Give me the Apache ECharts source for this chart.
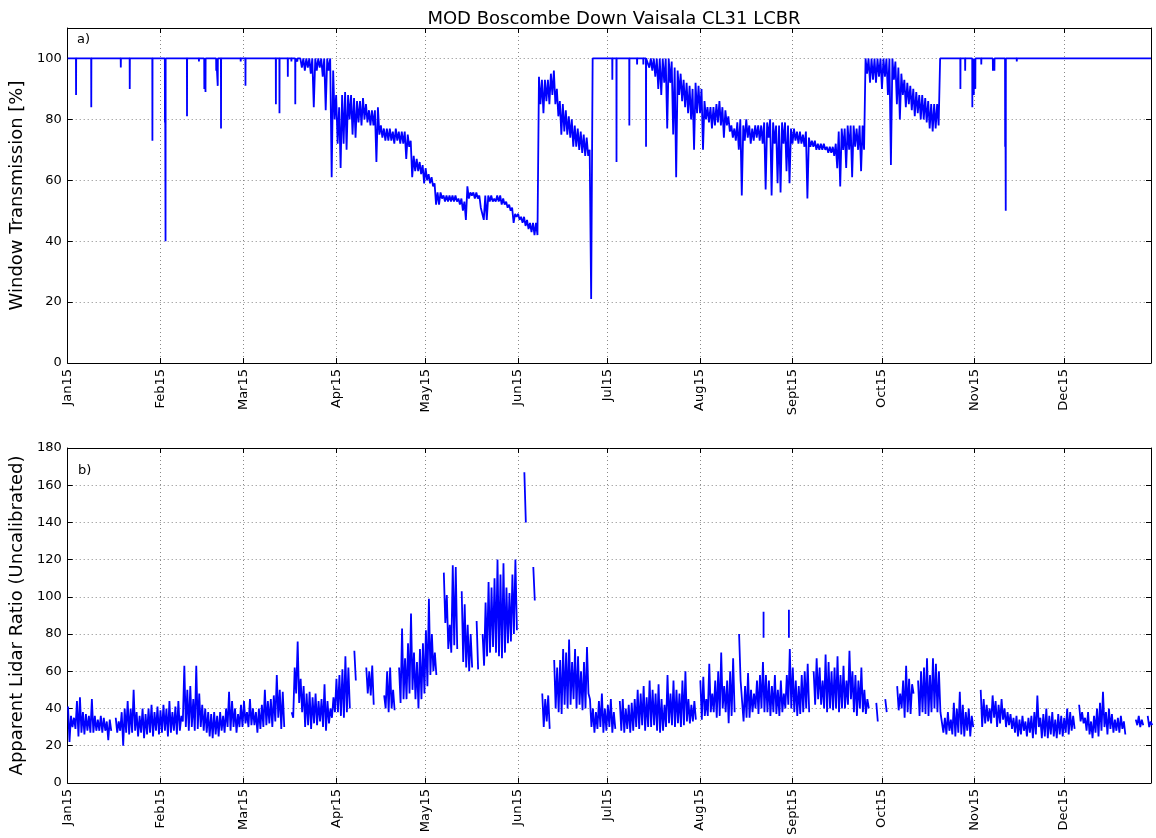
<!DOCTYPE html>
<html><head><meta charset="utf-8">
<script src="https://cdn.jsdelivr.net/npm/echarts@6/dist/echarts.min.js"></script>
<style>html,body{margin:0;padding:0;background:#fff}#c{width:1156px;height:838px}</style>
</head><body><div id="c"></div>
<script>
// ---------- tick labels ----------
const monthLabels = ['Jan15','Feb15','Mar15','Apr15','May15','Jun15','Jul15','Aug15','Sept15','Oct15','Nov15','Dec15'];
const xMaxDay = 363.2;   // x axis ends just before 1 Jan 2016 (days since 1 Jan 2015)

// ---------- panel a) window transmission [%] ----------
// isolated downward spikes while the window is at 100 % : [day, lowest value]
const wtSpikes = [
  [2.8,88],[7.9,84],[17.8,97],[20.8,90],[28.4,73],[32.6,79],[32.8,40],[40,81],[44,99],[45.8,90],[46.2,89],
  [49.8,96],[50.3,91],[51.4,77],[58,99],[59.6,91],[69.8,85],[71,82],[73.8,94],[75,99],[76.3,85],[77,99],
  [182.6,93],[184.0,66],[188.3,78],[190.9,98],[193.0,98],[193.9,71],
  [299.3,90],[300.9,96],[303.3,84],[303.8,88],[304.3,90],[306.3,98],[310.2,96],[310.7,96],[314.3,71],[314.5,50],[318.2,99]
];
// noisy period 1 (daily upper / lower envelope), starting at day 78
const wtStart1 = 78;
const wtHi1 = [
  100,100,100,100,100,100,100,100,100,100,
  100,96,88,84,88,89,88,88,87,86,
  86,87,85,83,83,83,84,78,77,77,
  77,76,77,76,76,76,75,73,68,67,
  66,65,64,62,61,59,56,56,55,55,
  55,55,55,54,54,53,58,56,56,56,
  55,51,55,55,55,54,55,55,54,53,
  52,51,49,49,48,48,47,46,46,46,
  94,93,93,93,95,96,90,86,85,83,
  81,80,78,77,76,75,74,70
];
const wtLo1 = [
  97,96,97,95,84,96,97,94,83,96,
  61,80,72,64,72,70,80,75,74,79,
  78,80,79,78,78,66,75,74,73,73,
  73,72,73,72,72,67,71,61,63,63,
  62,59,60,59,58,52,52,54,53,53,
  53,53,53,52,50,47,54,55,54,54,
  51,47,47,53,53,53,53,52,52,51,
  50,46,48,47,46,45,44,43,42,42,
  85,82,86,85,88,85,81,75,76,75,
  74,71,71,70,69,68,68,21
];
// noisy period 2, starting at day 194.5
const wtStart2 = 194.5;
const wtHi2 = [
  100,100,100,100,100,100,100,100,99,97,
  96,95,93,92,91,90,92,91,90,86,
  84,84,84,85,86,84,83,81,78,77,
  79,80,78,80,78,77,78,78,78,79,
  79,80,79,78,78,79,79,78,77,77,
  76,76,75,76,74,73,73,72,72,72,
  71,71,71,72,76,77,77,78,78,78,
  77,78,78,100,100,100,100,100,100,100,
  100,100,100,99,97,95,93,92,91,90,
  89,88,88,87,86,85,85,85
];
const wtLo2 = [
  97,96,94,90,88,92,77,92,75,61,
  88,86,84,82,80,70,82,82,70,80,
  79,77,78,79,78,74,78,76,74,73,
  70,55,73,74,72,73,74,73,72,57,
  74,55,72,59,56,72,63,59,72,73,
  72,72,71,54,71,71,70,70,70,70,
  69,69,68,64,58,70,64,70,61,71,
  70,63,70,95,92,93,92,94,90,94,
  88,65,93,85,80,88,84,85,83,81,
  82,80,80,79,77,76,77,78
];

// ---------- panel b) apparent lidar ratio, daily upper / lower envelope (null = no data) ----------
const lrHi = [
  41,36,35,44,46,38,37,36,45,36,   34,36,35,33,34,null,35,33,38,40,
  44,40,50,38,36,40,37,40,42,38,   41,39,42,40,44,38,41,44,36,63,
  50,52,45,63,48,42,40,38,37,38,   36,38,36,40,49,44,40,37,42,44,
  38,45,40,38,40,42,50,44,45,47,   58,50,49,null,null,38,62,76,56,52,
  48,49,46,48,44,45,53,44,40,46,   56,58,61,68,62,null,71,null,null,null,
  62,60,63,null,null,null,47,60,62,50,   null,62,83,67,75,91,70,65,72,75,
  82,99,80,70,null,null,113,101,85,117,   116,null,103,96,85,80,null,87,null,80,
  97,108,105,110,120,112,118,105,102,112,   120,null,null,167,null,null,116,null,null,48,
  45,47,null,66,62,66,72,70,77,65,   72,68,60,65,73,45,40,38,44,48,
  40,42,45,38,null,44,45,40,42,43,   45,50,48,52,46,55,50,48,53,45,
  42,58,48,55,50,48,55,60,45,42,   44,null,55,57,45,64,48,55,60,70,
  52,55,60,67,null,80,55,52,59,50,   48,55,58,65,58,55,52,58,50,55,
  48,58,72,62,55,52,58,60,64,null,   60,67,62,55,69,65,60,62,68,58,
  63,55,71,60,58,55,62,50,45,null,   null,43,null,null,45,null,null,null,52,48,
  55,63,56,53,null,55,60,62,67,58,   67,64,60,38,35,38,34,43,40,49,
  42,38,40,36,null,null,50,45,42,40,   47,44,42,45,40,38,37,35,36,34,
  36,33,35,36,38,47,35,37,40,36,   38,34,37,36,35,40,38,36,null,42,
  38,35,38,33,36,40,43,49,38,40,   37,34,35,36,33,null,null,null,34,36,
  34,null,36,33,null
];
const lrLo = [
  22,30,29,25,27,26,28,27,27,28,   28,27,28,23,28,null,27,28,20,27,
  26,27,28,25,27,24,26,27,25,28,   26,27,28,25,27,28,26,28,33,30,
  28,30,28,29,30,28,27,25,24,26,   25,28,27,30,28,30,27,30,30,32,
  30,31,31,27,29,30,31,32,30,33,   35,29,30,null,null,35,48,43,38,30,
  31,29,32,31,33,30,28,32,35,38,   38,36,35,38,40,null,55,null,null,null,
  48,47,42,null,null,null,40,38,40,39,   null,43,45,45,48,50,45,40,45,48,
  52,58,60,58,null,null,86,72,70,74,   72,null,65,62,60,62,null,61,null,63,
  68,70,73,70,68,67,70,75,76,80,   82,null,null,140,null,null,98,null,null,30,
  33,29,null,40,38,37,42,40,42,45,   40,42,39,40,48,30,27,29,30,27,
  28,30,27,29,null,28,27,29,27,28,   30,29,31,28,30,30,31,28,27,28,
  30,32,31,30,32,30,31,33,32,33,   34,null,34,36,36,38,38,35,36,40,
  38,32,36,38,null,55,33,35,35,38,   40,37,40,38,38,36,38,37,36,38,
  40,42,40,38,36,37,38,40,38,null,   42,45,42,40,38,40,39,40,38,40,
  40,42,45,38,36,40,38,37,40,null,   null,33,null,null,38,null,null,null,39,40,
  35,38,37,48,null,36,38,37,36,38,   40,38,38,27,26,28,26,25,27,26,
  25,28,25,30,null,null,30,32,33,32,   35,30,32,34,30,31,29,27,25,26,
  28,25,27,24,26,30,24,25,24,26,   25,24,26,25,27,26,28,29,null,33,
  32,28,26,24,27,25,28,30,26,29,   27,28,27,29,26,null,null,null,31,30,
  31,null,30,31,null
];
// separate short strokes above the daily band: [day, low, high]
const lrExtra = [[233.3,78,92],[241.8,78,93]];

// ---------- build line data from the values above ----------
const DAY = 86400000, T0 = Date.UTC(2015, 0, 1);
const toT = d => T0 + d * DAY;

function buildTransmission() {
  const pts = [[0, 100]];
  const ev = [];
  wtSpikes.forEach(s => ev.push({ d: s[0], s: s }));
  [[wtStart1, wtHi1, wtLo1], [wtStart2, wtHi2, wtLo2]].forEach(g => ev.push({ d: g[0], g: g }));
  ev.sort((a, b) => a.d - b.d);
  ev.forEach(e => {
    if (e.s) {
      pts.push([e.d - 0.04, 100], [e.d, e.s[1]], [e.d + 0.04, 100]);
    } else {
      const [st, hi, lo] = e.g;
      for (let i = 0; i < hi.length; i++) pts.push([st + i, hi[i]], [st + i + 0.5, lo[i]]);
      pts.push([st + hi.length, 100]);
    }
  });
  pts.push([xMaxDay, 100]);
  return pts.map(p => [toT(p[0]), p[1]]);
}
function buildLidar() {
  const pts = [];
  for (let i = 0; i < lrHi.length; i++) {
    if (lrHi[i] == null) { pts.push([toT(i + 0.25), null]); continue; }
    pts.push([toT(i + 0.1), lrHi[i]], [toT(i + 0.6), lrLo[i]]);
  }
  return pts;
}
function buildExtra() {
  const pts = [];
  lrExtra.forEach(e => { pts.push([toT(e[0]), e[1]], [toT(e[0]), e[2]], [toT(e[0] + 0.3), null]); });
  return pts;
}

// ---------- chart ----------
const FONT = 'DejaVu Sans';
const BLUE = '#0000ff';
const chart = echarts.init(document.getElementById('c'), null, { renderer: 'canvas' });

function xAxisDef(gridIndex, bottom) {
  return {
    type: 'time', gridIndex, position: bottom ? 'bottom' : 'top',
    min: toT(0), max: toT(xMaxDay), splitNumber: 12,
    minInterval: 27 * DAY, maxInterval: 32 * DAY,
    axisLine: { show: true, onZero: false, lineStyle: { color: '#000', width: 1 } },
    axisTick: { show: true, inside: true, length: 5, lineStyle: { color: '#000' } },
    axisLabel: bottom ? {
      show: true, rotate: 90, margin: 6, color: '#000', fontFamily: FONT, fontSize: 13,
      hideOverlap: false, showMinLabel: true, showMaxLabel: false,
      formatter: v => monthLabels[new Date(v).getUTCMonth()]
    } : { show: false },
    splitLine: bottom ? { show: true, lineStyle: { color: '#888', width: 1, type: [1, 3] } } : { show: false },
    minorTick: { show: false }
  };
}
function yAxisDef(gridIndex, left, max, name) {
  return {
    type: 'value', gridIndex, position: left ? 'left' : 'right',
    min: 0, max: max, interval: 20,
    name: left ? name : '', nameLocation: 'middle', nameGap: 37,
    nameTextStyle: { fontFamily: FONT, fontSize: 18, color: '#000' },
    axisLine: { show: true, onZero: false, lineStyle: { color: '#000', width: 1 } },
    axisTick: { show: true, inside: true, length: 5, lineStyle: { color: '#000' } },
    axisLabel: left ? { show: true, margin: 6, color: '#000', fontFamily: FONT, fontSize: 13, showMaxLabel: max === 180 } : { show: false },
    splitLine: left ? { show: true, lineStyle: { color: '#888', width: 1, type: [1, 3] } } : { show: false }
  };
}

chart.setOption({
  animation: false,
  useUTC: true,
  backgroundColor: '#fff',
  title: {
    text: 'MOD Boscombe Down Vaisala CL31 LCBR', left: 609, top: 5, textAlign: 'center',
    textStyle: { fontFamily: FONT, fontSize: 18, fontWeight: 'normal', color: '#000' }
  },
  grid: [
    { left: 67.5, top: 28, width: 1083.5, height: 335 },
    { left: 67.5, top: 448, width: 1083.5, height: 335 }
  ],
  xAxis: [xAxisDef(0, true), xAxisDef(0, false), xAxisDef(1, true), xAxisDef(1, false)],
  yAxis: [
    yAxisDef(0, true, 110, 'Window Transmission [%]'), yAxisDef(0, false, 110, ''),
    yAxisDef(1, true, 180, 'Apparent Lidar Ratio (Uncalibrated)'), yAxisDef(1, false, 180, '')
  ],
  graphic: [
    { type: 'text', left: 77, top: 33, style: { text: 'a)', fontFamily: FONT, fontSize: 13, fill: '#000' } },
    { type: 'text', left: 78, top: 464, style: { text: 'b)', fontFamily: FONT, fontSize: 13, fill: '#000' } }
  ],
  series: [
    { type: 'line', xAxisIndex: 0, yAxisIndex: 0, data: buildTransmission(), showSymbol: false, symbol: 'none',
      lineStyle: { color: BLUE, width: 1.8, join: 'bevel' }, connectNulls: false },
    { type: 'line', xAxisIndex: 2, yAxisIndex: 2, data: buildLidar(), showSymbol: false, symbol: 'none',
      lineStyle: { color: BLUE, width: 1.8, join: 'bevel' }, connectNulls: false },
    { type: 'line', xAxisIndex: 2, yAxisIndex: 2, data: buildExtra(), showSymbol: false, symbol: 'none',
      lineStyle: { color: BLUE, width: 1.8 }, connectNulls: false }
  ]
});
</script>
</body></html>
